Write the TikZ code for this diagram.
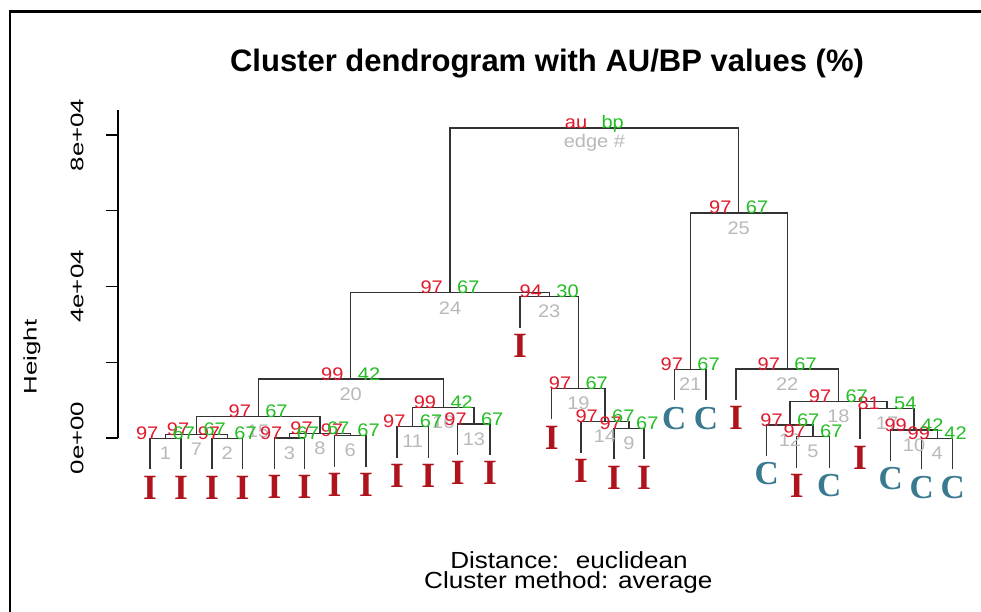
\documentclass[tikz,border=0pt]{standalone}
\usepackage{fontspec}
\setmainfont{Liberation Sans}
\newfontfamily\numf[FakeStretch=1.1]{Liberation Sans}
\newfontfamily\rotf[FakeStretch=1.42]{Liberation Sans}
\newfontfamily\botf[FakeStretch=1.12]{Liberation Sans}
\newfontfamily\leaff{Liberation Serif}
\definecolor{aured}{RGB}{225,25,45}
\definecolor{bpgreen}{RGB}{35,190,35}
\definecolor{edgegray}{RGB}{185,185,185}
\definecolor{ired}{RGB}{175,20,28}
\definecolor{cteal}{RGB}{58,122,144}
\tikzset{
  tree/.style={draw=black!80, line width=1.2pt},
  numtxt/.style={font=\numf\fontsize{18.2}{20}\selectfont, inner sep=0pt},
  aulab/.style={numtxt, text=aured, anchor=base east},
  bplab/.style={numtxt, text=bpgreen, anchor=base west},
  edgelab/.style={numtxt, text=edgegray, anchor=center},
  ilab/.style={text=ired, font=\leaff\bfseries\fontsize{35.5}{38}\selectfont, inner sep=0pt, anchor=north},
  clab/.style={text=cteal, font=\leaff\bfseries\fontsize{33.5}{36}\selectfont, inner sep=0pt, anchor=north},
  rottxt/.style={font=\rotf\fontsize{18.2}{20}\selectfont, rotate=90, inner sep=0pt},
  bottxt/.style={font=\botf\fontsize{23.3}{26}\selectfont, inner sep=0pt, anchor=base},
}
\def\pvlist{root/au/bp/edge \#, n24/97/67/24, n25/97/67/25, n20/99/42/20, n23/94/30/23,
 n15/97/67/15, n16/99/42/16, n7/97/67/7, n8/97/67/8, n1/97/67/1, n2/97/67/2,
 n3/97/67/3, n6/97/67/6, n11/97/67/11, n13/97/67/13, n19/97/67/19, n14/97/67/14,
 n9/97/67/9, n21/97/67/21, n22/97/67/22, n18/97/67/18, n12/97/67/12, n5/97/67/5,
 n17/81/54/17, n10/99/42/10, n4/99/42/4}
\begin{document}
\begin{tikzpicture}[x=1pt, y=-1pt]
\useasboundingbox (0,0) rectangle (981,612);
\fill[white] (0,0) rectangle (981,612);
% frame
\draw[line width=2.8pt] (10,612) -- (10,11.3) -- (981,11.3);
% title
\node[font=\bfseries\fontsize{31}{34}\selectfont, anchor=base, inner sep=0pt] (title) at (547,72) {Cluster dendrogram with AU/BP values (\%)};
% axis
\draw[line width=1.1pt] (118,110) -- (118,438);
\foreach \t in {0,1,2,3,4} \draw[line width=1.1pt] (106,438-75.75*\t) -- (118,438-75.75*\t);
\node[rottxt] (t0) at (77,438) {0e+00};
\node[rottxt] (t4) at (77,286.5) {4e+04};
\node[rottxt] (t8) at (77,135) {8e+04};
\node[rottxt] (ylab) at (32,357) {Height};
% bottom texts
\node[bottxt] (dist) at (569,568.3) {Distance:~ euclidean};
\node[bottxt] (meth) at (568.3,588.3) {Cluster method: average};
% internal nodes
\coordinate (root) at (594.4,128);
\coordinate (n24) at (450,292.7);
\coordinate (n25) at (738.7,213);
\coordinate (n20) at (350.7,379);
\coordinate (n23) at (549.2,296.7);
\coordinate (n15) at (258.1,416.7);
\coordinate (n16) at (443.3,407.3);
\coordinate (n7) at (196.4,434.3);
\coordinate (n8) at (319.9,433.3);
\coordinate (n1) at (165.5,438.3);
\coordinate (n2) at (227.25,438.3);
\coordinate (n3) at (289.5,438);
\coordinate (n6) at (350.25,435.7);
\coordinate (n11) at (412.7,426.7);
\coordinate (n13) at (473.9,424);
\coordinate (n19) at (578.4,388.3);
\coordinate (n14) at (605,421.7);
\coordinate (n9) at (629,428.3);
\coordinate (n21) at (690.2,369.3);
\coordinate (n22) at (787.2,369);
\coordinate (n18) at (838.4,401.7);
\coordinate (n12) at (789.9,425);
\coordinate (n5) at (813,436.7);
\coordinate (n17) at (887,408.3);
\coordinate (n10) at (914,430);
\coordinate (n4) at (937.2,438.3);
% leaves
\coordinate (a1) at (150,469.3);
\coordinate (a2) at (181,469.3);
\coordinate (a3) at (212,469.3);
\coordinate (a4) at (242.5,469.3);
\coordinate (a5) at (274.5,469);
\coordinate (a6) at (304.5,469);
\coordinate (a7) at (334.5,466.7);
\coordinate (a8) at (366,466.7);
\coordinate (a9) at (397,457.7);
\coordinate (a10) at (428.3,457.7);
\coordinate (a11) at (457.7,455);
\coordinate (a12) at (490,455);
\coordinate (a13) at (520,327.7);
\coordinate (a14) at (551.7,419.3);
\coordinate (a15) at (581,452.7);
\coordinate (a16) at (614,459.3);
\coordinate (a17) at (644,459.3);
\coordinate (b1) at (674.3,400.3);
\coordinate (b2) at (706,400.3);
\coordinate (b3) at (736,400);
\coordinate (b4) at (766.7,456);
\coordinate (b5) at (796.7,467.7);
\coordinate (b6) at (829.3,467.7);
\coordinate (b7) at (860,439.3);
\coordinate (b8) at (890.7,461);
\coordinate (b9) at (921.7,469.3);
\coordinate (b10) at (952.7,469.3);
% tree
\draw[tree] (a1) |- (n1) -| (a2);
\draw[tree] (a3) |- (n2) -| (a4);
\draw[tree] (a5) |- (n3) -| (a6);
\draw[tree] (a7) |- (n6) -| (a8);
\draw[tree] (n1) |- (n7) -| (n2);
\draw[tree] (n3) |- (n8) -| (n6);
\draw[tree] (n7) |- (n15) -| (n8);
\draw[tree] (a9) |- (n11) -| (a10);
\draw[tree] (a11) |- (n13) -| (a12);
\draw[tree] (n11) |- (n16) -| (n13);
\draw[tree] (n15) |- (n20) -| (n16);
\draw[tree] (a16) |- (n9) -| (a17);
\draw[tree] (a15) |- (n14) -| (n9);
\draw[tree] (a14) |- (n19) -| (n14);
\draw[tree] (a13) |- (n23) -| (n19);
\draw[tree] (n20) |- (n24) -| (n23);
\draw[tree] (b1) |- (n21) -| (b2);
\draw[tree] (b5) |- (n5) -| (b6);
\draw[tree] (b4) |- (n12) -| (n5);
\draw[tree] (b9) |- (n4) -| (b10);
\draw[tree] (b8) |- (n10) -| (n4);
\draw[tree] (b7) |- (n17) -| (n10);
\draw[tree] (n12) |- (n18) -| (n17);
\draw[tree] (b3) |- (n22) -| (n18);
\draw[tree] (n21) |- (n25) -| (n22);
\draw[tree] (n24) |- (root) -| (n25);
% labels
\foreach \n/\a/\b/\e in \pvlist {\node[edgelab] (\n-e) at ([yshift=-15pt]\n) {\e};}
\foreach \n/\a/\b/\e in \pvlist {\node[aulab] (\n-a) at ([xshift=-7pt,yshift=-1pt]\n) {\a};}
\foreach \n/\a/\b/\e in \pvlist {\node[bplab] (\n-b) at ([xshift=7pt,yshift=-1pt]\n) {\b};}
% leaf labels
\foreach \l in {a1,a2,a3,a4,a5,a6,a7,a8,a9,a10,a11,a12,a13,a14,a15,a16,a17,b3,b5,b7}
  \node[ilab] (\l-t) at ([yshift=-6.5pt]\l) {I};
\foreach \l in {b1,b2,b4,b6,b8,b9,b10}
  \node[clab] (\l-t) at ([yshift=-6.5pt]\l) {C};
\end{tikzpicture}
\end{document}
